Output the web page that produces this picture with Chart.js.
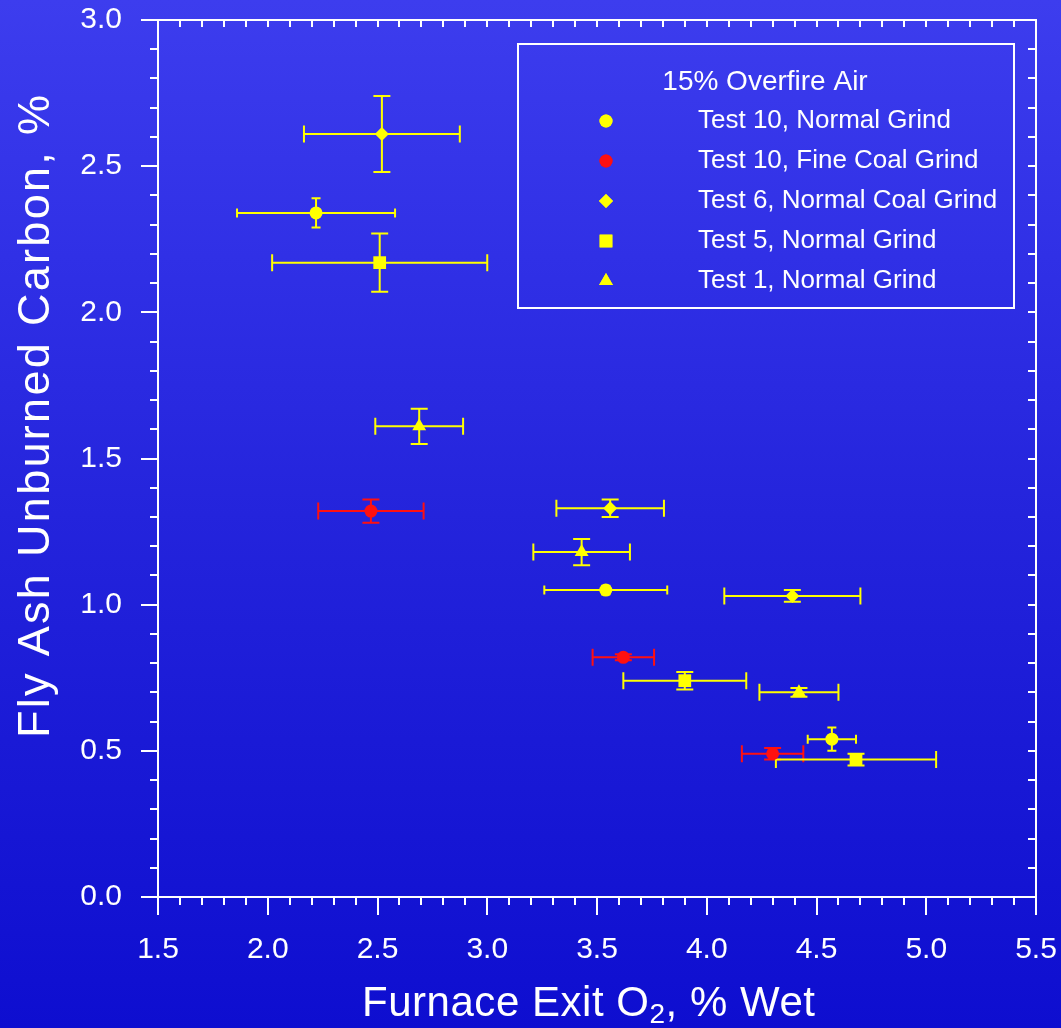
<!DOCTYPE html>
<html lang="en">
<head>
<meta charset="UTF-8">
<title>Fly Ash Unburned Carbon vs Furnace Exit O2</title>
<script src="https://cdn.jsdelivr.net/npm/chart.js"></script>
<style>
	html, body { margin: 0; padding: 0; }
	body {
		width: 1061px; height: 1028px; overflow: hidden;
		background: linear-gradient(#3d3dee 0%, #3030e6 25%, #2424dc 50%, #1a1ad6 72%, #0e0ed0 100%);
	}
	canvas { display: block; }
</style>
</head>
<body>
<canvas id="o2-chart" width="1061" height="1028"></canvas>
<script>
// series labels + legend title
const legendTitle = '15% Overfire Air';
const seriesLabels = ['Test 10, Normal Grind', 'Test 10, Fine Coal Grind', 'Test 6, Normal Coal Grind', 'Test 5, Normal Grind', 'Test 1, Normal Grind'];

// O2 (x), carbon (y) and their +/- errors
const test10NormalO2 = [2.22, 3.54, 4.57];
const test10NormalCarbon = [2.34, 1.05, 0.54];
const test10NormalO2Err = [0.36, 0.28, 0.11];
const test10NormalCarbonErr = [0.05, 0.015, 0.04];

const test10FineO2 = [2.47, 3.62, 4.30];
const test10FineCarbon = [1.32, 0.82, 0.49];
const test10FineO2Err = [0.24, 0.14, 0.14];
const test10FineCarbonErr = [0.04, 0.01, 0.02];

const test6O2 = [2.52, 3.56, 4.39];
const test6Carbon = [2.61, 1.33, 1.03];
const test6O2Err = [0.355, 0.245, 0.31];
const test6CarbonErr = [0.13, 0.03, 0.02];

const test5O2 = [2.51, 3.90, 4.68];
const test5Carbon = [2.17, 0.74, 0.47];
const test5O2Err = [0.49, 0.28, 0.365];
const test5CarbonErr = [0.10, 0.03, 0.02];

const test1O2 = [2.69, 3.43, 4.42];
const test1Carbon = [1.61, 1.18, 0.70];
const test1O2Err = [0.20, 0.22, 0.18];
const test1CarbonErr = [0.06, 0.045, 0.015];

const xTitle = ['Furnace Exit O', '2', ', % Wet'];
const yTitle = 'Fly Ash Unburned Carbon, %';

function toPoints(xs, ys, xe, ye) {
	return xs.map((x, i) => ({ x: x, y: ys[i], xErr: xe[i], yErr: ye[i] }));
}

const YELLOW = '#ffff00';
const RED = '#ff1010';
const FONT = '"Liberation Sans", Arial, sans-serif';

// draw text stretched (letter spacing) to a given width, starting at x
function spacedText(ctx, parts, x, y, width) {
	ctx.letterSpacing = '0px';
	let w0 = 0, n = 0;
	parts.forEach(p => { ctx.font = p.font; w0 += ctx.measureText(p.text).width; n += p.text.length; });
	const ls = (width - w0) / (n - 1);
	ctx.letterSpacing = ls + 'px';
	let cx = x;
	parts.forEach(p => {
		ctx.font = p.font;
		ctx.fillText(p.text, cx, y + (p.dy || 0));
		cx += ctx.measureText(p.text).width;
	});
	ctx.letterSpacing = '0px';
}

const errorBars = {
	id: 'errorBars',
	beforeDatasetsDraw(chart) {
		const ctx = chart.ctx, xs = chart.scales.x, ys = chart.scales.y;
		ctx.save();
		ctx.lineWidth = 2;
		chart.data.datasets.forEach(ds => {
			ctx.strokeStyle = ds.borderColor;
			const cap = ds.errCap;
			ds.data.forEach(p => {
				const px = xs.getPixelForValue(p.x), py = ys.getPixelForValue(p.y);
				const xl = xs.getPixelForValue(p.x - p.xErr), xr = xs.getPixelForValue(p.x + p.xErr);
				const yt = ys.getPixelForValue(p.y + p.yErr), yb = ys.getPixelForValue(p.y - p.yErr);
				ctx.beginPath();
				ctx.moveTo(xl, py); ctx.lineTo(xr, py);
				ctx.moveTo(xl, py - cap); ctx.lineTo(xl, py + cap);
				ctx.moveTo(xr, py - cap); ctx.lineTo(xr, py + cap);
				ctx.moveTo(px, yt); ctx.lineTo(px, yb);
				ctx.moveTo(px - cap, yt); ctx.lineTo(px + cap, yt);
				ctx.moveTo(px - cap, yb); ctx.lineTo(px + cap, yb);
				ctx.stroke();
			});
		});
		ctx.restore();
	}
};

const frameAndText = {
	id: 'frameAndText',
	afterDraw(chart) {
		const ctx = chart.ctx, xs = chart.scales.x, ys = chart.scales.y;
		const a = chart.chartArea;
		ctx.save();
		ctx.strokeStyle = '#ffffff';
		ctx.lineWidth = 2;
		ctx.strokeRect(a.left, a.top, a.right - a.left, a.bottom - a.top);

		// ticks: outward on bottom/left, inward minor on top/right
		ctx.beginPath();
		for (let i = 0; i <= 40; i++) {
			const v = 1.5 + i * 0.1;
			const px = Math.round(xs.getPixelForValue(v));
			const len = i % 5 === 0 ? 18 : 8;
			ctx.moveTo(px, a.bottom); ctx.lineTo(px, a.bottom + len);
			if (i > 0 && i < 40) { ctx.moveTo(px, a.top); ctx.lineTo(px, a.top + 7); }
		}
		for (let i = 0; i <= 30; i++) {
			const v = i * 0.1;
			const py = Math.round(ys.getPixelForValue(v));
			const len = i % 5 === 0 ? 17 : 8;
			ctx.moveTo(a.left, py); ctx.lineTo(a.left - len, py);
			if (i > 0 && i < 30) { ctx.moveTo(a.right, py); ctx.lineTo(a.right - 8, py); }
		}
		ctx.stroke();

		ctx.fillStyle = '#ffffff';
		ctx.textBaseline = 'alphabetic';
		ctx.textAlign = 'left';
		// x title with subscript 2
		spacedText(ctx, [
			{ text: xTitle[0], font: '42px ' + FONT },
			{ text: xTitle[1], font: '28px ' + FONT, dy: 7 },
			{ text: xTitle[2], font: '42px ' + FONT }
		], 362, 1016, 453);

		// y title, rotated
		ctx.save();
		ctx.translate(49, 738);
		ctx.rotate(-Math.PI / 2);
		spacedText(ctx, [{ text: yTitle, font: '45px ' + FONT }], 0, 0, 643);
		ctx.restore();

		// legend box
		ctx.strokeRect(518, 44, 496, 264);
		ctx.font = '28px ' + FONT;
		ctx.textAlign = 'center';
		ctx.textBaseline = 'middle';
		ctx.fillText(legendTitle, 765, 82);
		ctx.textAlign = 'left';
		ctx.font = '26px ' + FONT;
		chart.data.datasets.forEach((ds, i) => {
			const ly = 121 + i * 40;
			ctx.fillStyle = ds.backgroundColor;
			Chart.helpers.drawPoint(ctx, { pointStyle: ds.pointStyle, radius: ds.pointRadius, rotation: 0, borderWidth: 0 }, 606, ly);
			ctx.fill();
			ctx.fillStyle = '#ffffff';
			ctx.fillText(ds.label, 698, ly);
		});
		ctx.restore();
	}
};

function noPad(s) {
	s.paddingTop = 0; s.paddingBottom = 0; s.paddingLeft = 0; s.paddingRight = 0;
}

new Chart(document.getElementById('o2-chart'), {
	type: 'scatter',
	data: {
		datasets: [
			{ label: seriesLabels[0], data: toPoints(test10NormalO2, test10NormalCarbon, test10NormalO2Err, test10NormalCarbonErr),
				pointStyle: 'circle', pointRadius: 6.5, backgroundColor: YELLOW, borderColor: YELLOW, borderWidth: 0, errCap: 4.5 },
			{ label: seriesLabels[1], data: toPoints(test10FineO2, test10FineCarbon, test10FineO2Err, test10FineCarbonErr),
				pointStyle: 'circle', pointRadius: 6.5, backgroundColor: RED, borderColor: RED, borderWidth: 0, errCap: 8.5 },
			{ label: seriesLabels[2], data: toPoints(test6O2, test6Carbon, test6O2Err, test6CarbonErr),
				pointStyle: 'rectRot', pointRadius: 7, backgroundColor: YELLOW, borderColor: YELLOW, borderWidth: 0, errCap: 8.5 },
			{ label: seriesLabels[3], data: toPoints(test5O2, test5Carbon, test5O2Err, test5CarbonErr),
				pointStyle: 'rect', pointRadius: 9, backgroundColor: YELLOW, borderColor: YELLOW, borderWidth: 0, errCap: 8.5 },
			{ label: seriesLabels[4], data: toPoints(test1O2, test1Carbon, test1O2Err, test1CarbonErr),
				pointStyle: 'triangle', pointRadius: 8, backgroundColor: YELLOW, borderColor: YELLOW, borderWidth: 0, errCap: 8.5 }
		]
	},
	options: {
		responsive: false,
		animation: false,
		layout: { padding: { top: 20, right: 25, left: 0, bottom: 0 } },
		plugins: { legend: { display: false }, tooltip: { enabled: false } },
		scales: {
			x: {
				type: 'linear', min: 1.5, max: 5.5,
				grid: { display: false, drawTicks: false },
				border: { display: false },
				ticks: { stepSize: 0.5, color: '#ffffff', padding: 35, maxRotation: 0,
					font: { family: FONT, size: 30 },
					callback: v => v.toFixed(1) },
				afterFit: s => { s.height = 131; noPad(s); }
			},
			y: {
				type: 'linear', min: 0, max: 3,
				grid: { display: false, drawTicks: false },
				border: { display: false },
				ticks: { stepSize: 0.5, color: '#ffffff', padding: 36,
					font: { family: FONT, size: 30 },
					callback: v => v.toFixed(1) },
				afterFit: s => { s.width = 158; noPad(s); }
			}
		}
	},
	plugins: [errorBars, frameAndText]
});
</script>
</body>
</html>
